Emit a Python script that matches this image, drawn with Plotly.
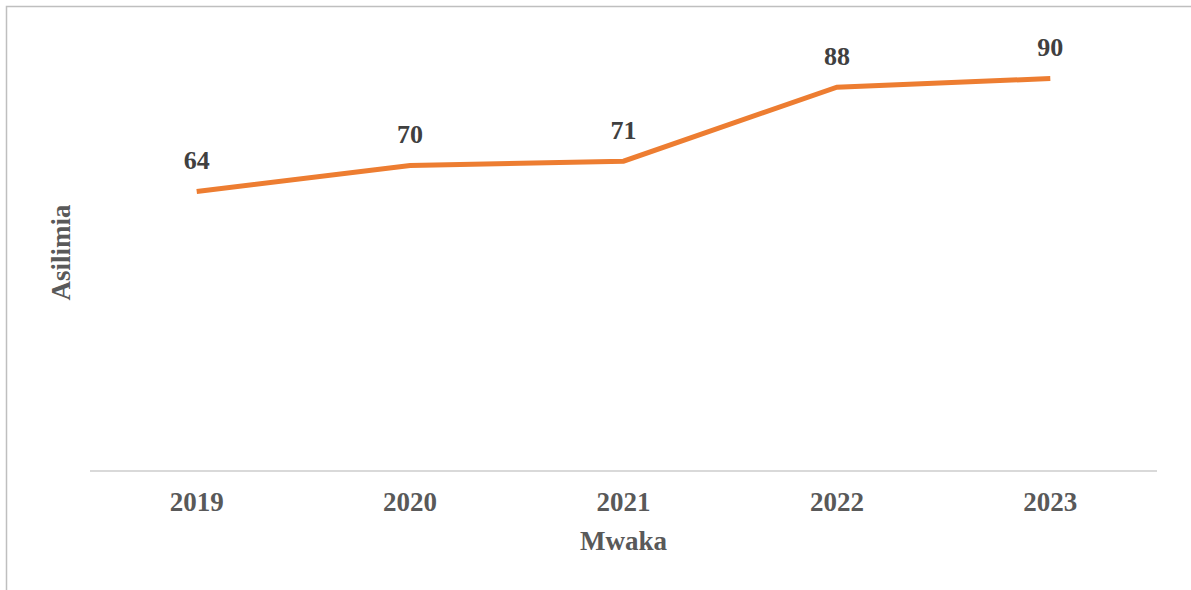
import plotly.graph_objects as go

# Data
years = ["2019", "2020", "2021", "2022", "2023"]
asilimia = [64, 70, 71, 88, 90]

grey = "#595959"
orange = "#ED7D31"
font = "Liberation Serif"

fig = go.Figure()
fig.add_trace(go.Scatter(
    x=years, y=asilimia,
    mode="lines+markers+text",
    line=dict(color=orange, width=5),
    marker=dict(size=24, opacity=0),
    text=["<b>%d</b>" % v for v in asilimia],
    textposition="top center",
    textfont=dict(family=font, size=26, color="#404040"),
    hoverinfo="skip",
    cliponaxis=False,
))

# plot area spans px 90..1157 horizontally, 35..470 vertically
L, R, T, B = 90, 34, 35, 120
pw = 1191 - L - R
ph = 590 - T - B

fig.update_layout(
    width=1191, height=590,
    margin=dict(l=L, r=R, t=T, b=B),
    paper_bgcolor="white", plot_bgcolor="white",
    showlegend=False,
    font=dict(family=font, color=grey),
    xaxis=dict(
        type="category",
        range=[-0.5, 4.5],
        showgrid=False,
        showline=True, linecolor="#d9d9d9", linewidth=2,
        ticks="",
        ticklabelstandoff=7,
        tickfont=dict(family=font, size=27, color=grey, weight="bold"),
        title=dict(text="<b>Mwaka</b>", font=dict(family=font, size=27, color=grey), standoff=15),
    ),
    yaxis=dict(
        range=[0, 100],
        showgrid=False, showline=False, zeroline=False,
        showticklabels=False, ticks="",
        title=dict(text="<b>Asilimia</b>", font=dict(family=font, size=27, color=grey), standoff=10),
    ),
    shapes=[dict(
        type="rect", xref="paper", yref="paper",
        x0=(6.5 - L) / pw, x1=1.2,
        y0=-0.5, y1=(470 - 6.5) / ph,
        line=dict(color="#bfbfbf", width=1.5),
        layer="below",
    )],
)

# page body has a default 8px margin; drop it so the figure sits at 0,0
fig.write_html("out.html", config={"displayModeBar": False},
               post_script="document.body.style.margin='0';")
